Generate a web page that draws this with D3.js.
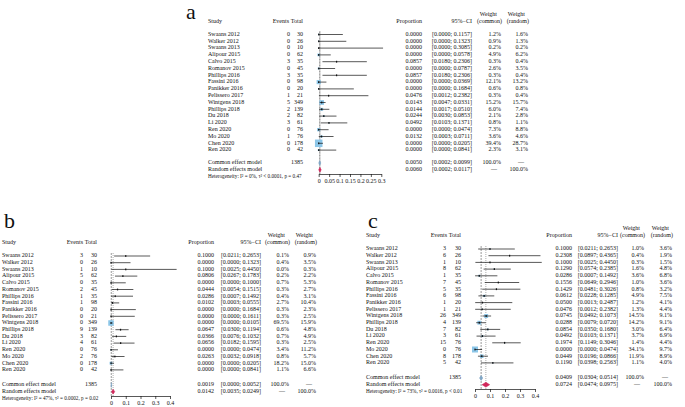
<!DOCTYPE html>
<html>
<head>
<meta charset="utf-8">
<script src="https://cdn.jsdelivr.net/npm/d3@7"></script>
<style>
  body { margin: 0; background: #fff; }
  svg text { font-family: "Liberation Serif", "DejaVu Serif", serif; fill: #111; }
</style>
</head>
<body>
<div id="chart"></div>
<script>
// study list + totals are the same in all three panels
const studies = ["Swaans 2012", "Walker 2012", "Swaans 2013", "Alipour 2015", "Calvo 2015", "Romanov 2015",
  "Phillips 2016", "Fassini 2016", "Panikker 2016", "Pelissero 2017", "Wintgens 2018", "Phillips 2018",
  "Du 2018", "Li 2020", "Ren 2020", "Mo 2020", "Chen 2020", "Ren 2020"];
const totals = [30, 26, 10, 62, 35, 45, 35, 98, 20, 21, 349, 139, 82, 61, 76, 76, 178, 42];
const totalAll = 1385;

// panel a
const eventsA = [0, 0, 0, 0, 3, 0, 3, 0, 0, 1, 5, 2, 2, 3, 0, 1, 0, 0];
const propA = [0, 0, 0, 0, 0.0857, 0, 0.0857, 0, 0, 0.0476, 0.0143, 0.0144, 0.0244, 0.0492, 0, 0.0132, 0, 0];
const lowA = [0, 0, 0, 0, 0.0180, 0, 0.0180, 0, 0, 0.0012, 0.0047, 0.0017, 0.0030, 0.0103, 0, 0.0003, 0, 0];
const highA = [0.1157, 0.1323, 0.3085, 0.0578, 0.2306, 0.0787, 0.2306, 0.0369, 0.1684, 0.2382, 0.0331, 0.0510,
  0.0853, 0.1371, 0.0474, 0.0711, 0.0205, 0.0841];
const wComA = [1.2, 0.9, 0.2, 4.9, 0.3, 2.6, 0.3, 12.1, 0.6, 0.3, 15.2, 6.0, 2.1, 0.8, 7.3, 3.6, 39.4, 2.3];
const wRanA = [1.6, 1.3, 0.2, 6.2, 0.4, 3.5, 0.4, 13.2, 0.8, 0.4, 15.7, 7.4, 2.8, 1.1, 8.8, 4.6, 28.7, 3.1];
const commonA = [0.0050, 0.0002, 0.0099];
const randomA = [0.0060, 0.0002, 0.0117];
const hetA = "Heterogeneity:  I² = 0%, τ² < 0.0001, p = 0.47";
const ticksA = [0, 0.05, 0.1, 0.15, 0.2, 0.25, 0.3];

// panel b
const eventsB = [3, 0, 1, 5, 0, 2, 1, 1, 0, 0, 0, 9, 3, 4, 0, 2, 0, 0];
const propB = [0.1000, 0, 0.1000, 0.0806, 0, 0.0444, 0.0286, 0.0102, 0, 0, 0, 0.0647, 0.0366, 0.0656, 0, 0.0263, 0, 0];
const lowB = [0.0211, 0, 0.0025, 0.0267, 0, 0.0054, 0.0007, 0.0003, 0, 0, 0, 0.0300, 0.0076, 0.0182, 0, 0.0032, 0, 0];
const highB = [0.2653, 0.1323, 0.4450, 0.1783, 0.1000, 0.1515, 0.1492, 0.0555, 0.1684, 0.1611, 0.0105, 0.1194,
  0.1032, 0.1595, 0.0474, 0.0918, 0.0205, 0.0841];
const wComB = [0.1, 0.4, 0.0, 0.2, 0.7, 0.3, 0.4, 2.7, 0.3, 0.3, 69.5, 0.6, 0.7, 0.3, 3.4, 0.8, 18.2, 1.1];
const wRanB = [0.9, 3.5, 0.3, 2.2, 5.3, 2.7, 3.1, 10.4, 2.3, 2.5, 15.9, 4.8, 4.9, 2.5, 11.2, 5.7, 15.0, 6.6];
const commonB = [0.0019, 0.0000, 0.0052];
const randomB = [0.0142, 0.0035, 0.0249];
const hetB = "Heterogeneity:  I² = 47%, τ² = 0.0002, p = 0.02";
const ticksB = [0, 0.1, 0.2, 0.3, 0.4];

// panel c
const eventsC = [3, 6, 1, 8, 1, 7, 5, 6, 1, 1, 26, 4, 7, 3, 15, 0, 8, 5];
const propC = [0.1000, 0.2308, 0.1000, 0.1290, 0.0286, 0.1556, 0.1429, 0.0612, 0.0500, 0.0476, 0.0745, 0.0288,
  0.0854, 0.0492, 0.1974, 0, 0.0449, 0.1190];
const lowC = [0.0211, 0.0897, 0.0025, 0.0574, 0.0007, 0.0649, 0.0481, 0.0228, 0.0013, 0.0012, 0.0492, 0.0079,
  0.0350, 0.0103, 0.1149, 0, 0.0196, 0.0398];
const highC = [0.2653, 0.4365, 0.4450, 0.2385, 0.1492, 0.2946, 0.3026, 0.1285, 0.2487, 0.2382, 0.1073, 0.0720,
  0.1680, 0.1371, 0.3046, 0.0474, 0.0866, 0.2563];
const wComC = [1.0, 0.4, 0.3, 1.6, 3.6, 1.0, 0.8, 4.9, 1.2, 1.3, 14.5, 14.2, 3.0, 3.7, 1.4, 34.1, 11.9, 1.1];
const wRanC = [3.6, 1.9, 1.5, 4.8, 6.8, 3.6, 3.2, 7.5, 4.1, 4.4, 9.1, 9.1, 6.4, 6.9, 4.4, 9.7, 8.9, 4.0];
const commonC = [0.0409, 0.0304, 0.0514];
const randomC = [0.0724, 0.0474, 0.0975];
const hetC = "Heterogeneity:  I² = 73%, τ² = 0.0016, p < 0.01";
const ticksC = [0, 0.1, 0.2, 0.3, 0.4];

const W = 685, H = 407;
const fs = 6;
const squareCol = "#8cc6e8", commonCol = "#7fa6c6", randomCol = "#d2265a";

const svg = d3.select('#chart').append('svg')
  .attr('width', W).attr('height', H);

const f4 = d3.format(".4f");
const pct = v => d3.format(".1f")(v) + "%";

function txt(g, x, y, s, anchor, size) {
  return g.append('text').attr('x', x).attr('y', y)
    .attr('dominant-baseline', 'middle')
    .attr('text-anchor', anchor || 'start')
    .attr('font-size', size || fs).text(s);
}

function drawPanel(p) {
  const g = svg.append('g');
  const x = d3.scaleLinear().domain([0, p.ticks[p.ticks.length - 1]]).range([p.x0, p.x1]);
  const rowY = i => p.y0 + i * p.step;

  g.append('text').attr('x', p.labelX).attr('y', p.labelY)
    .attr('font-size', 22).text(p.label);

  // headers
  txt(g, p.studyX, p.headY, "Study");
  txt(g, p.totX - 14, p.headY, "Events", 'end');
  txt(g, p.totX, p.headY, "Total", 'end');
  txt(g, p.propX, p.headY, "Proportion", 'end');
  txt(g, p.ciX, p.headY, "95%−CI", 'end');
  txt(g, p.wcX - 4, p.headY - 7, "Weight", 'end');
  txt(g, p.wcX + 1, p.headY, "(common)", 'end');
  txt(g, p.wrX - 3, p.headY - 7, "Weight", 'end');
  txt(g, p.wrX + 1, p.headY, "(random)", 'end');

  // reference lines (common dashed, random dotted)
  const yTop = rowY(0) - 3, yBot = p.axisY;
  g.append('line').attr('x1', x(p.common[0])).attr('x2', x(p.common[0]))
    .attr('y1', yTop).attr('y2', yBot)
    .attr('stroke', '#555').attr('stroke-width', 0.6).attr('stroke-dasharray', '2,1');
  g.append('line').attr('x1', x(p.random[0])).attr('x2', x(p.random[0]))
    .attr('y1', yTop).attr('y2', yBot)
    .attr('stroke', '#555').attr('stroke-width', 0.6).attr('stroke-dasharray', '0.8,1.2');

  const wmax = d3.max(p.wCom);
  const rows = g.selectAll('g.row').data(studies).enter().append('g').attr('class', 'row');

  rows.each(function (name, i) {
    const r = d3.select(this), y = rowY(i);
    txt(r, p.studyX, y, name);
    txt(r, p.evX, y, p.events[i], 'end');
    txt(r, p.totX, y, totals[i], 'end');
    txt(r, p.propX, y, f4(p.prop[i]), 'end');
    txt(r, p.ciX, y, "[" + f4(p.low[i]) + "; " + f4(p.high[i]) + "]", 'end');
    txt(r, p.wcX, y, pct(p.wCom[i]), 'end');
    txt(r, p.wrX, y, pct(p.wRan[i]), 'end');

    const s = p.maxSq * Math.sqrt(p.wCom[i] / wmax);
    if (s > 0) {
      r.append('rect').attr('x', x(p.prop[i]) - s / 2).attr('y', y - s / 2)
        .attr('width', s).attr('height', s).attr('fill', squareCol);
    }
    r.append('line').attr('x1', x(p.low[i])).attr('x2', x(p.high[i]))
      .attr('y1', y).attr('y2', y).attr('stroke', '#111').attr('stroke-width', 0.7);
    r.append('rect').attr('x', x(p.prop[i]) - 0.6).attr('y', y - 0.9)
      .attr('width', 1.2).attr('height', 1.8).attr('fill', '#111');
  });

  // summary rows
  const yc = p.sumY, yr = p.sumY + p.step;
  txt(g, p.studyX, yc, "Common effect model");
  txt(g, p.totX, yc, totalAll, 'end');
  txt(g, p.propX, yc, f4(p.common[0]), 'end');
  txt(g, p.ciX, yc, "[" + f4(p.common[1]) + "; " + f4(p.common[2]) + "]", 'end');
  txt(g, p.wcX, yc, "100.0%", 'end');
  txt(g, p.wrX - 4, yc, "—", 'end');

  txt(g, p.studyX, yr, "Random effects model");
  txt(g, p.propX, yr, f4(p.random[0]), 'end');
  txt(g, p.ciX, yr, "[" + f4(p.random[1]) + "; " + f4(p.random[2]) + "]", 'end');
  txt(g, p.wcX - 4, yr, "—", 'end');
  txt(g, p.wrX, yr, "100.0%", 'end');

  const diamond = (est, y, col) => {
    const h = 2.4, l = x(est[1]), m = x(est[0]), rr = x(est[2]);
    g.append('path')
      .attr('d', `M${l},${y}L${m},${y - h}L${rr},${y}L${m},${y + h}Z`)
      .attr('fill', col).attr('stroke', col).attr('stroke-width', 0.6);
  };
  diamond(p.common, yc, commonCol);
  diamond(p.random, yr, randomCol);

  txt(g, p.studyX, yr + p.step, p.het, 'start', 5.2);

  // axis
  const axis = d3.axisBottom(x).tickValues(p.ticks).tickSize(3).tickSizeOuter(0)
    .tickPadding(2).tickFormat(d3.format("~g"));
  const ag = g.append('g').attr('transform', `translate(0,${p.axisY})`).call(axis);
  ag.selectAll('path, line').attr('stroke', '#111').attr('stroke-width', 0.7);
  ag.selectAll('text').attr('font-size', fs)
    .attr('font-family', '"Liberation Serif", serif').attr('fill', '#111');
}

drawPanel({
  label: "a", labelX: 186, labelY: 19,
  studyX: 208, evX: 290, totX: 303, propX: 422, ciX: 472, wcX: 501, wrX: 528,
  headY: 22, y0: 34.5, step: 6.8, sumY: 163, axisY: 174,
  x0: 318.7, x1: 381.3, ticks: ticksA, maxSq: 7.5,
  events: eventsA, prop: propA, low: lowA, high: highA, wCom: wComA, wRan: wRanA,
  common: commonA, random: randomA, het: hetA
});

drawPanel({
  label: "b", labelX: 4, labelY: 228,
  studyX: 2, evX: 83, totX: 97, propX: 214, ciX: 261, wcX: 289, wrX: 316,
  headY: 243, y0: 256, step: 6.7, sumY: 385, axisY: 396,
  x0: 111, x1: 170, ticks: ticksB, maxSq: 5.5,
  events: eventsB, prop: propB, low: lowB, high: highB, wCom: wComB, wRan: wRanB,
  common: commonB, random: randomB, het: hetB
});

drawPanel({
  label: "c", labelX: 368, labelY: 228,
  studyX: 366, evX: 446, totX: 461, propX: 572, ciX: 618, wcX: 644, wrX: 672,
  headY: 236, y0: 249, step: 6.7, sumY: 378, axisY: 389,
  x0: 475, x1: 535, ticks: ticksC, maxSq: 6,
  events: eventsC, prop: propC, low: lowC, high: highC, wCom: wComC, wRan: wRanC,
  common: commonC, random: randomC, het: hetC
});
</script>
</body>
</html>
